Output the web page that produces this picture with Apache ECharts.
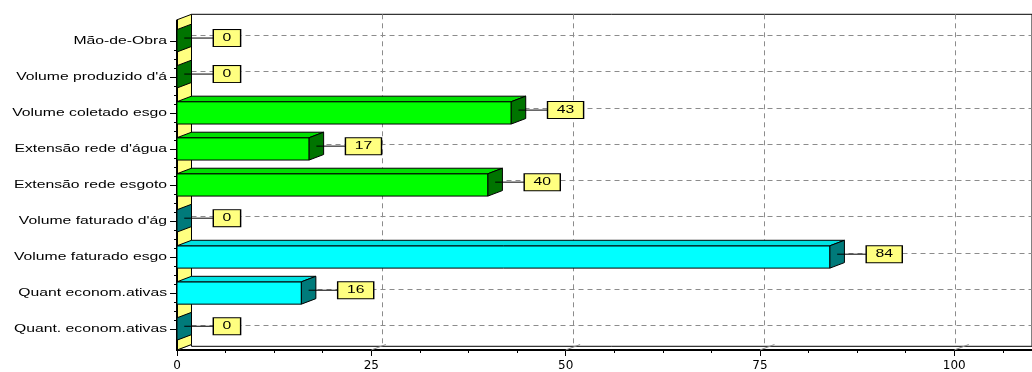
<!DOCTYPE html>
<html>
<head>
<meta charset="utf-8">
<script src="https://cdn.jsdelivr.net/npm/echarts@6/dist/echarts.min.js"></script>
<style>
  html, body { margin: 0; padding: 0; background: #fff; }
  #chart { width: 1032px; height: 372px; }
</style>
</head>
<body>
<div id="chart"></div>
<script>
// Indicator names, top to bottom
const categories = [
  'Mão-de-Obra',
  "Volume produzido d'á",
  'Volume coletado esgo',
  "Extensão rede d'água",
  'Extensão rede esgoto',
  "Volume faturado d'ág",
  'Volume faturado esgo',
  'Quant econom.ativas',
  'Quant. econom.ativas'
];
// Values of the two series (null = category not in that series)
const greenValues = [0, 0, 43, 17, 40, null, null, null, null];
const cyanValues  = [null, null, null, null, null, 0, 84, 16, 0];
// Major ticks of the value axis
const xTicks = [0, 25, 50, 75, 100];

// 3D depth of walls and bars, in pixels
const DX = 14.5, DY = 5.5;
const PAD = 21;          // wall extent beyond first/last category
const BAR_RATIO = 0.62;  // bar thickness relative to category spacing
const LABEL_GAP = 37;    // from bar end to value box
const TEXT_SX = 1.43;    // wide lettering
const FONT = '11px "Liberation Sans", Arial, sans-serif';
const WALL = '#FFFF80';

function toItems(vals) {
  return vals.map((v, i) => (v == null ? null : [v, i])).filter(Boolean);
}

function barRenderer(colors) {
  return function (params, api) {
    const v = api.value(0), i = api.value(1);
    const p0 = api.coord([0, i]);
    const x0 = p0[0], cy = p0[1];
    const x1 = api.coord([v, i])[0];
    const h = Math.abs(api.size([0, 1])[1]) * BAR_RATIO;
    const yT = cy - h / 2, yB = cy + h / 2;
    const kids = [];
    if (x1 > x0) {
      kids.push({ type: 'rect', shape: { x: x0, y: yT, width: x1 - x0, height: h },
        style: { fill: colors.front, stroke: '#000', lineWidth: 1 } });
      kids.push({ type: 'polygon', shape: { points: [[x0, yT], [x1, yT], [x1 + DX, yT - DY], [x0 + DX, yT - DY]] },
        style: { fill: colors.top, stroke: '#000', lineWidth: 1 } });
    }
    kids.push({ type: 'polygon', shape: { points: [[x1, yT], [x1 + DX, yT - DY], [x1 + DX, yB - DY], [x1, yB]] },
      style: { fill: colors.side, stroke: '#000', lineWidth: 1 } });
    const ly = cy - DY / 2;
    kids.push({ type: 'line', shape: { x1: x1 + DX / 2, y1: ly, x2: x1 + LABEL_GAP, y2: ly },
      style: { stroke: '#000', lineWidth: 1 } });
    kids.push({ type: 'text', x: x1 + LABEL_GAP, y: ly, scaleX: TEXT_SX,
      style: { text: String(v), x: 0, y: 0, align: 'left', verticalAlign: 'middle',
        font: FONT, fill: '#000', backgroundColor: WALL, borderColor: '#000', borderWidth: 1,
        padding: [2, 6, 2, 6], lineHeight: 12 } });
    return { type: 'group', children: kids };
  };
}

const chart = echarts.init(document.getElementById('chart'), null, { renderer: 'canvas' });

const plotW = 855.8;
const option = {
  animation: false,
  backgroundColor: '#fff',
  grid: [
    { left: 177, top: 40.8, width: plotW, height: 290 },                         // front plane
    { left: 177 + DX, top: 40.8 - PAD - DY, width: plotW, height: 290 + 2 * PAD, // back wall
      show: true, borderColor: '#000', borderWidth: 1, backgroundColor: 'transparent' },
    { left: 177 + DX, top: 40.8 - DY, width: plotW, height: 290 }                 // back wall rows
  ],
  xAxis: [
    { gridIndex: 0, type: 'value', position: 'bottom', min: 0, max: 110, interval: 25, offset: PAD,
      axisLine: { show: true, onZero: false, lineStyle: { color: '#000', width: 2 } },
      axisTick: { show: true, length: 6, lineStyle: { color: '#000' } },
      minorTick: { show: true, splitNumber: 4, length: 3, lineStyle: { color: '#000' } },
      axisLabel: { color: '#000', fontFamily: 'DejaVu Sans', fontSize: 12, margin: 10, showMaxLabel: false },
      splitLine: { show: false } },
    { gridIndex: 1, type: 'value', min: 0, max: 110, interval: 25,
      axisLine: { show: false }, axisTick: { show: false }, axisLabel: { show: false },
      splitLine: { show: true, lineStyle: { color: '#8c8c8c', type: [5, 4], width: 1 } } },
    { gridIndex: 2, type: 'value', min: 0, max: 110, show: false }
  ],
  yAxis: [
    { gridIndex: 0, type: 'value', inverse: true, min: 0, max: 8, interval: 1,
      axisLine: { show: true, onZero: false, lineStyle: { color: '#000', width: 2 } },
      axisTick: { show: true, length: 7, lineStyle: { color: '#000' } },
      minorTick: { show: true, splitNumber: 4, length: 3, lineStyle: { color: '#000' } },
      axisLabel: { show: false }, splitLine: { show: false } },
    { gridIndex: 1, type: 'value', min: 0, max: 1, show: false },
    { gridIndex: 2, type: 'value', inverse: true, min: 0, max: 8, interval: 1,
      axisLine: { show: false }, axisTick: { show: false }, axisLabel: { show: false },
      splitLine: { show: true, lineStyle: { color: '#8c8c8c', type: [5, 4], width: 1 } } }
  ],
  series: [
    { // left wall and floor
      type: 'custom', xAxisIndex: 0, yAxisIndex: 0, z: 1,
      data: [[0, 0]],
      renderItem: function (params, api) {
        const pTop = api.coord([0, 0]);
        const pBot = api.coord([0, categories.length - 1]);
        const x0 = pTop[0];
        const top = pTop[1] - PAD, bottom = pBot[1] + PAD;
        const kids = [];
        xTicks.forEach(function (t) {
          const xt = api.coord([t, 0])[0];
          kids.push({ type: 'line', shape: { x1: xt, y1: bottom, x2: xt + DX, y2: bottom - DY },
            style: { stroke: '#8c8c8c', lineWidth: 1 } });
        });
        kids.push({ type: 'polygon',
          shape: { points: [[x0, top], [x0 + DX, top - DY], [x0 + DX, bottom - DY], [x0, bottom]] },
          style: { fill: WALL, stroke: '#000', lineWidth: 1 } });
        kids.push({ type: 'line', shape: { x1: x0, y1: top, x2: x0, y2: bottom + 1 },
          style: { stroke: '#000', lineWidth: 2 } });
        return { type: 'group', children: kids };
      }
    },
    { // category names
      type: 'custom', xAxisIndex: 0, yAxisIndex: 0, z: 3,
      data: categories.map(function (c, i) { return [0, i]; }),
      renderItem: function (params, api) {
        const p = api.coord([0, api.value(1)]);
        return { type: 'text', x: p[0] - 10, y: p[1], scaleX: TEXT_SX,
          style: { text: categories[params.dataIndex], x: 0, y: 0, align: 'right',
            verticalAlign: 'middle', font: FONT, fill: '#000' } };
      }
    },
    { name: 'green', type: 'custom', xAxisIndex: 0, yAxisIndex: 0, z: 2,
      data: toItems(greenValues),
      renderItem: barRenderer({ front: '#00FF00', top: '#00E000', side: '#007400' }) },
    { name: 'cyan', type: 'custom', xAxisIndex: 0, yAxisIndex: 0, z: 2,
      data: toItems(cyanValues),
      renderItem: barRenderer({ front: '#00FFFF', top: '#00E2E2', side: '#007A7A' }) }
  ]
};
chart.setOption(option);
</script>
</body>
</html>
